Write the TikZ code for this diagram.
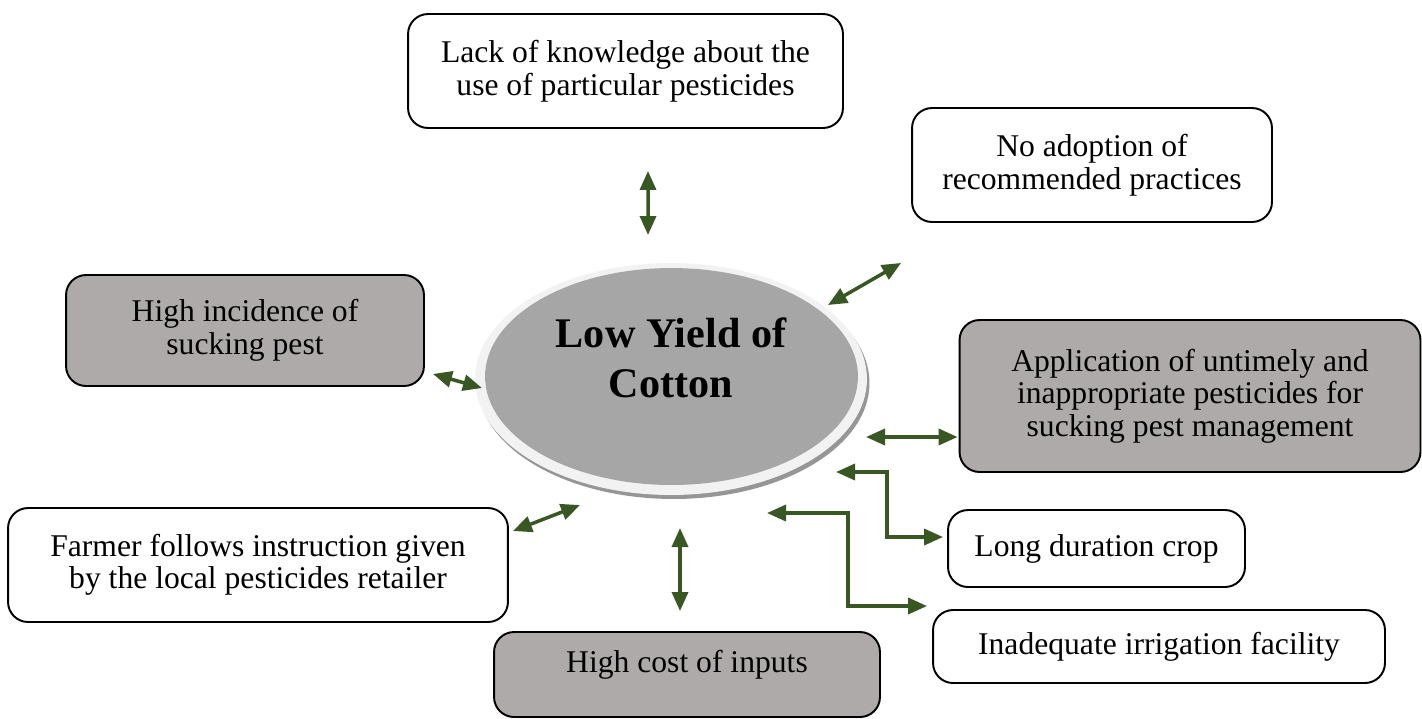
\documentclass[tikz,border=0pt]{standalone}
\usepackage{fontspec}
\setmainfont{Liberation Serif}
\usetikzlibrary{shapes.geometric,arrows.meta,calc,shadows}

\definecolor{softgray}{RGB}{174,170,170}
\definecolor{coregray}{RGB}{166,166,166}
\definecolor{ringgray}{RGB}{242,242,242}
\definecolor{shadegray}{RGB}{150,150,150}
\definecolor{leafgreen}{RGB}{56,87,35}

\begin{document}
\begin{tikzpicture}[
x=0.02cm, y=-0.02cm,
every node/.style={
align=center,
font=\fontsize{18}{18.5}\selectfont
},
arrow/.style={{Triangle[length=0.38cm,width=0.32cm]}-{Triangle[length=0.38cm,width=0.32cm]},
draw=leafgreen, line width=2pt}
]

\useasboundingbox (0,0) rectangle (1422,718);

% =====================================================
% Styles
% =====================================================

\tikzstyle{plain} =
[rectangle, rounded corners=0.4cm,
fill=white,
draw=black,
line width=1.1pt]

\tikzstyle{shaded} =
[rectangle, rounded corners=0.4cm,
fill=softgray,
draw=black,
line width=1.1pt]

\tikzstyle{core} =
[ellipse,
fill=ringgray,
minimum width=7.84cm,
minimum height=4.64cm,
drop shadow={shadow xshift=0.05cm, shadow yshift=-0.08cm, fill=shadegray, opacity=1}]

% =====================================================
% Nodes
% =====================================================

\node (yield) [core] at (671,379) {};
\fill[coregray] ($(yield.center)+(0.5,-2.5)$) ellipse (3.73cm and 2.17cm);

\node (title) [font=\fontsize{24}{28.5}\selectfont\bfseries] at (671,358)
{Low Yield of\\Cotton};

\node (lack) [plain, minimum width=8.7cm, minimum height=2.28cm] at (625.5,71)
{Lack of knowledge about the\\use of particular pesticides};

\node (noadopt) [plain, minimum width=7.2cm, minimum height=2.28cm] at (1092,165)
{No adoption of\\recommended practices};

\node (pest) [shaded, minimum width=7.16cm, minimum height=2.22cm] at (245,330.5)
{High incidence of\\sucking pest};

\node (apply) [shaded, minimum width=9.22cm, minimum height=3.04cm] at (1190,396)
{Application of untimely and\\inappropriate pesticides for\\sucking pest management};

\node (longcrop) [plain, minimum width=5.94cm, minimum height=1.54cm] at (1096.5,548.5)
{Long duration crop};

\node (irrig) [plain, minimum width=9.04cm, minimum height=1.46cm] at (1159,646.5)
{Inadequate irrigation facility};

\node (farmer) [plain, minimum width=10cm, minimum height=2.28cm] at (258,565)
{Farmer follows instruction given\\by the local pesticides retailer};

\node (cost) [shaded, minimum width=7.72cm, minimum height=1.7cm, text depth=0.54cm] at (687,674.5)
{High cost of inputs};

% =====================================================
% Arrows
% =====================================================

\draw [arrow] ($(lack.south)+(22.5,42)$) -- ($(yield.center)+(-23,-144)$);

\draw [arrow] ($(yield.center)+(157,-74)$) -- ($(noadopt.south west)+(-10,40)$);

\draw [arrow] ($(pest.south east)+(8,-13)$) -- ($(yield.center)+(-189,9)$);

\draw [arrow] ($(yield.center)+(195,58)$) -- ($(apply.west)+(-1,41)$);

\draw [arrow] ($(yield.center)+(165,93)$) -- ++(51,0) |- ($(longcrop.west)+(-4,-11.5)$);

\draw [arrow] ($(yield.center)+(96,134)$) -- ++(81,0) |- ($(irrig.west)+(-5,-40.5)$);

\draw [arrow] ($(farmer.north east)+(4,24)$) -- ($(yield.center)+(-91,126)$);

\draw [arrow] ($(yield.center)+(9,149)$) -- ($(cost.north)+(-7,-20)$);

\end{tikzpicture}
\end{document}
